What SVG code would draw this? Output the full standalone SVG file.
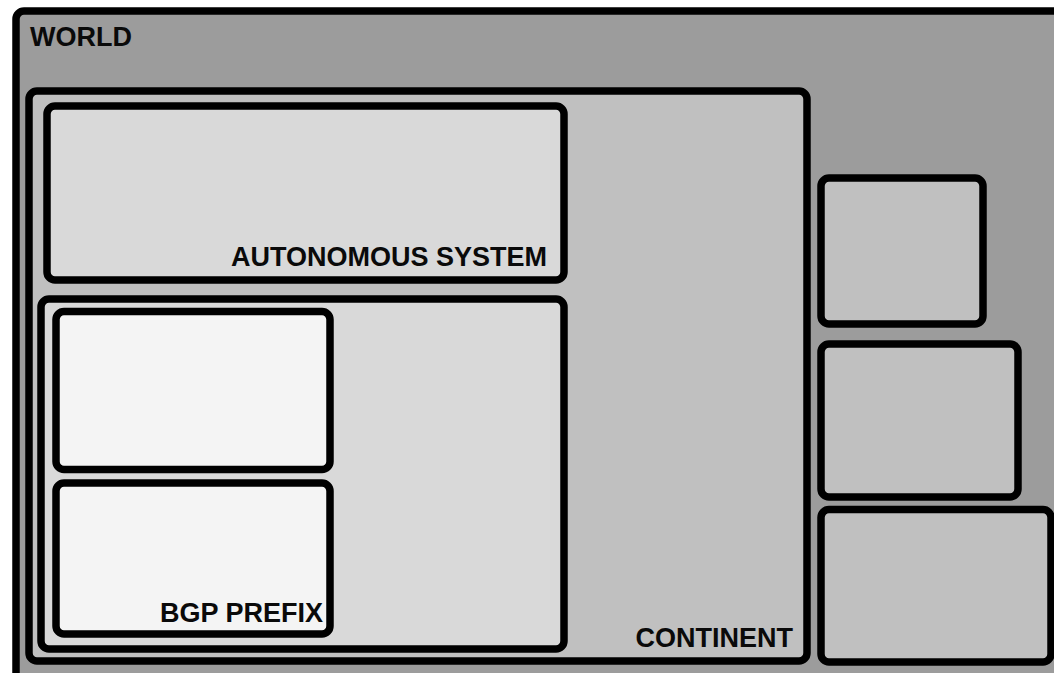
<svg xmlns="http://www.w3.org/2000/svg" width="1054" height="673" viewBox="0 0 1054 673">
<style>
.b{stroke:#000;stroke-width:7.5;stroke-linejoin:round}
.w{fill:#9c9c9c}
.c{fill:#c0c0c0}
.a{fill:#d9d9d9}
.p{fill:#f4f4f4}
.t{font-family:"Liberation Sans",Arial,sans-serif;font-weight:bold;font-size:27px;fill:#0a0a0a}
</style>
<rect x="0" y="0" width="1054" height="673" fill="#fff"/>
<g id="world">
<rect class="b w" x="16" y="11" width="1060" height="700" rx="8"/>
<text class="t" x="30" y="46">WORLD</text>
</g>
<g id="continent">
<rect class="b c" x="29" y="91" width="778" height="570" rx="8"/>
<text class="t" x="793" y="647" text-anchor="end">CONTINENT</text>
</g>
<g id="as1">
<rect class="b a" x="47" y="106" width="517" height="174" rx="8"/>
<text class="t" x="547" y="266" text-anchor="end">AUTONOMOUS SYSTEM</text>
</g>
<g id="as2">
<rect class="b a" x="41" y="299" width="523" height="350" rx="8"/>
</g>
<g id="prefix1">
<rect class="b p" x="56" y="311.5" width="274" height="158" rx="8"/>
</g>
<g id="prefix2">
<rect class="b p" x="56" y="483" width="274" height="151" rx="8"/>
<text class="t" x="323" y="622" text-anchor="end">BGP PREFIX</text>
</g>
<g id="box1">
<rect class="b c" x="821" y="178" width="162" height="146" rx="8"/>
</g>
<g id="box2">
<rect class="b c" x="821" y="344" width="197" height="153" rx="8"/>
</g>
<g id="box3">
<rect class="b c" x="821" y="509.5" width="230" height="152.5" rx="8"/>
</g>
<g id="connectors"></g>
</svg>
